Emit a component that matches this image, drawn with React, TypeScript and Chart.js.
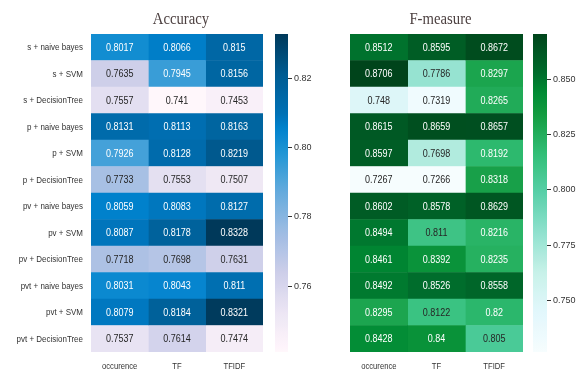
import React, { useEffect, useRef } from "react";
import { Chart, registerables } from "chart.js";

Chart.register(...registerables);

// ---------------- data ----------------
const rowLabels = [
  "s + naive bayes",
  "s + SVM",
  "s + DecisionTree",
  "p + naive bayes",
  "p + SVM",
  "p + DecisionTree",
  "pv + naive bayes",
  "pv + SVM",
  "pv + DecisionTree",
  "pvt + naive bayes",
  "pvt + SVM",
  "pvt + DecisionTree",
];
const colLabels = ["occurence", "TF", "TFIDF"];

const accOccurence = [0.8017, 0.7635, 0.7557, 0.8131, 0.7926, 0.7733, 0.8059, 0.8087, 0.7718, 0.8031, 0.8079, 0.7537];
const accTF = [0.8066, 0.7945, 0.741, 0.8113, 0.8128, 0.7553, 0.8083, 0.8178, 0.7698, 0.8043, 0.8184, 0.7614];
const accTFIDF = [0.815, 0.8156, 0.7453, 0.8163, 0.8219, 0.7507, 0.8127, 0.8328, 0.7631, 0.811, 0.8321, 0.7474];

const fOccurence = [0.8512, 0.8706, 0.748, 0.8615, 0.8597, 0.7267, 0.8602, 0.8494, 0.8461, 0.8492, 0.8295, 0.8428];
const fTF = [0.8595, 0.7786, 0.7319, 0.8659, 0.7698, 0.7266, 0.8578, 0.811, 0.8392, 0.8526, 0.8122, 0.84];
const fTFIDF = [0.8672, 0.8297, 0.8265, 0.8657, 0.8192, 0.8318, 0.8629, 0.8216, 0.8235, 0.8558, 0.82, 0.805];

const accColorbarTicks = [0.76, 0.78, 0.8, 0.82];
const fColorbarTicks = [0.75, 0.775, 0.8, 0.825, 0.85];

// colormaps (matplotlib PuBu / BuGn)
const PuBu = ["#fff7fb", "#ece7f2", "#d0d1e6", "#a6bddb", "#74a9cf", "#3690c0", "#0570b0", "#045a8d", "#023858"];
const BuGn = ["#f7fcfd", "#e5f5f9", "#ccece6", "#99d8c9", "#66c2a4", "#41ae76", "#238b45", "#006d2c", "#00441b"];

const FONT = "'Liberation Sans', Arial, sans-serif";
const TITLE_FONT = "'Liberation Serif', 'Times New Roman', serif";
const SAT_BOOST = 1.3;

// ---------------- helpers ----------------
function hexToRgb(h: string): number[] {
  const n = parseInt(h.slice(1), 16);
  return [(n >> 16) & 255, (n >> 8) & 255, n & 255];
}
function boost(c: number[]): number[] {
  const r = c[0] / 255, g = c[1] / 255, b = c[2] / 255;
  const mx = Math.max(r, g, b), mn = Math.min(r, g, b);
  const l = (mx + mn) / 2;
  if (mx === mn) return c;
  const d = mx - mn;
  let s = l > 0.5 ? d / (2 - mx - mn) : d / (mx + mn);
  let h = 0;
  if (mx === r) h = (g - b) / d + (g < b ? 6 : 0);
  else if (mx === g) h = (b - r) / d + 2;
  else h = (r - g) / d + 4;
  h /= 6;
  s = Math.min(1, s * SAT_BOOST);
  const q = l < 0.5 ? l * (1 + s) : l + s - l * s;
  const p = 2 * l - q;
  const hue = (t: number) => {
    if (t < 0) t += 1;
    if (t > 1) t -= 1;
    if (t < 1 / 6) return p + (q - p) * 6 * t;
    if (t < 1 / 2) return q;
    if (t < 2 / 3) return p + (q - p) * (2 / 3 - t) * 6;
    return p;
  };
  return [hue(h + 1 / 3), hue(h), hue(h - 1 / 3)].map((v) => Math.round(v * 255));
}
function cmap(stops: string[], t: number): number[] {
  t = Math.max(0, Math.min(1, t));
  const n = stops.length - 1;
  const p = t * n;
  const i = Math.min(Math.floor(p), n - 1);
  const f = p - i;
  const a = hexToRgb(stops[i]);
  const b = hexToRgb(stops[i + 1]);
  return boost([0, 1, 2].map((k) => Math.round(a[k] + (b[k] - a[k]) * f)));
}
function rgbStr(c: number[]) {
  return `rgb(${c[0]},${c[1]},${c[2]})`;
}
function luminance(c: number[]) {
  const l = c.map((v) => {
    const s = v / 255;
    return s <= 0.03928 ? s / 12.92 : Math.pow((s + 0.055) / 1.055, 2.4);
  });
  return 0.2126 * l[0] + 0.7152 * l[1] + 0.0722 * l[2];
}
function condensedText(ctx: any, text: string, x: number, y: number, sx: number, align: string) {
  ctx.save();
  ctx.translate(x, y);
  ctx.scale(sx, 1);
  ctx.textAlign = align;
  ctx.textBaseline = "middle";
  ctx.fillText(text, 0, 0);
  ctx.restore();
}

const annotPlugin = {
  id: "annot",
  afterDatasetsDraw(chart: any) {
    const ctx = chart.ctx;
    ctx.save();
    ctx.font = `10px ${FONT}`;
    chart.data.datasets.forEach((ds: any, di: number) => {
      const meta = chart.getDatasetMeta(di);
      meta.data.forEach((el: any, i: number) => {
        const { x, y } = el.getCenterPoint();
        const v = ds.values[i];
        ctx.fillStyle = luminance(ds.rgb[i]) > 0.408 ? "#262626" : "#ffffff";
        condensedText(ctx, String(v), x, y + 0.5, 0.9, "center");
      });
    });
    ctx.restore();
  },
};

const labelPlugin = {
  id: "labels",
  afterDraw(chart: any, _args: any, opts: any) {
    const ctx = chart.ctx;
    const ca = chart.chartArea;
    const xs = chart.scales.x;
    const ys = chart.scales.y;
    ctx.save();
    // title
    ctx.fillStyle = "#4d4141";
    ctx.font = `16px ${TITLE_FONT}`;
    condensedText(ctx, opts.title, (ca.left + ca.right) / 2 + 4, 20, 0.92, "center");
    // column labels
    ctx.fillStyle = "#333333";
    ctx.font = `9px ${FONT}`;
    colLabels.forEach((c, i) => {
      condensedText(ctx, c, xs.getPixelForValue(i + 0.5), ca.bottom + 15, 0.85, "center");
    });
    // row labels
    if (opts.showRows) {
      ctx.font = `9.5px ${FONT}`;
      rowLabels.forEach((r, i) => {
        condensedText(ctx, r, ca.left - 8, ys.getPixelForValue(i) + 0.5, 0.84, "right");
      });
    }
    ctx.restore();
  },
};

type HeatProps = {
  title: string;
  columns: number[][];
  stops: string[];
  showRows: boolean;
  left: number;
  width: number;
  padLeft: number;
  padRight: number;
};

function Heatmap(props: HeatProps) {
  const ref = useRef<HTMLCanvasElement>(null);
  useEffect(() => {
    const all = props.columns.flat();
    const vmin = Math.min(...all);
    const vmax = Math.max(...all);
    const datasets = props.columns.map((vals, c) => {
      const rgb = vals.map((v) => cmap(props.stops, (v - vmin) / (vmax - vmin)));
      return {
        label: colLabels[c],
        data: vals.map(() => [c, c + 1]),
        values: vals,
        rgb,
        backgroundColor: rgb.map(rgbStr),
        borderWidth: 0,
        grouped: false,
        barPercentage: 1,
        categoryPercentage: 1,
      };
    });
    const chart = new Chart(ref.current as HTMLCanvasElement, {
      type: "bar",
      data: { labels: rowLabels, datasets: datasets as any },
      options: {
        indexAxis: "y",
        responsive: false,
        animation: false,
        layout: { padding: { left: props.padLeft, right: props.padRight, top: 34, bottom: 0 } },
        plugins: {
          legend: { display: false },
          tooltip: { enabled: false },
          labels: { title: props.title, showRows: props.showRows },
        } as any,
        scales: {
          x: {
            type: "linear",
            min: 0,
            max: 3,
            grid: { display: false, drawTicks: false },
            border: { display: false },
            afterFit: (s: any) => {
              s.height = 20;
            },
            ticks: { display: false },
          },
          y: {
            type: "category",
            display: props.showRows,
            grid: { display: false, drawTicks: false },
            border: { display: false },
            afterFit: (s: any) => {
              if (props.showRows) s.width = 91 - props.padLeft;
            },
            ticks: { display: false },
          },
        } as any,
      },
      plugins: [annotPlugin, labelPlugin],
    });
    return () => chart.destroy();
  }, []);
  return (
    <canvas
      ref={ref}
      width={props.width}
      height={372}
      style={{ position: "absolute", left: props.left, top: 0 }}
    />
  );
}

type CbProps = {
  columns: number[][];
  stops: string[];
  ticks: number[];
  decimals: number;
  left: number;
  barWidth: number;
};

function Colorbar(props: CbProps) {
  const ref = useRef<HTMLCanvasElement>(null);
  const W = 50;
  useEffect(() => {
    const all = props.columns.flat();
    const vmin = Math.min(...all);
    const vmax = Math.max(...all);
    const chart = new Chart(ref.current as HTMLCanvasElement, {
      type: "bar",
      data: {
        labels: [""],
        datasets: [
          {
            data: [[vmin, vmax]] as any,
            borderWidth: 0,
            barPercentage: 1,
            categoryPercentage: 1,
            backgroundColor: (ctx: any) => {
              const ca = ctx.chart.chartArea;
              if (!ca) return props.stops[0];
              const g = ctx.chart.ctx.createLinearGradient(0, ca.bottom, 0, ca.top);
              const N = 48;
              for (let i = 0; i <= N; i++) g.addColorStop(i / N, rgbStr(cmap(props.stops, i / N)));
              return g;
            },
          },
        ],
      },
      options: {
        responsive: false,
        animation: false,
        layout: { padding: { left: 5, top: 34, bottom: 20, right: 0 } },
        plugins: { legend: { display: false }, tooltip: { enabled: false } },
        scales: {
          x: { display: false },
          y: {
            position: "right",
            min: vmin,
            max: vmax,
            border: { display: false },
            grid: { display: true, drawOnChartArea: false, drawTicks: true, tickLength: 4, color: "#333333" },
            afterBuildTicks: (s: any) => {
              s.ticks = props.ticks.map((v) => ({ value: v }));
            },
            afterFit: (s: any) => {
              s.width = W - 5 - props.barWidth;
            },
            ticks: {
              padding: 2,
              color: "#333333",
              font: { family: FONT, size: 9 },
              callback: (v: any) => Number(v).toFixed(props.decimals),
            },
          },
        } as any,
      },
    });
    return () => chart.destroy();
  }, []);
  return (
    <canvas
      ref={ref}
      width={W}
      height={372}
      style={{ position: "absolute", left: props.left, top: 0 }}
    />
  );
}

export default function App() {
  return (
    <div
      style={{
        position: "absolute",
        left: 0,
        top: 0,
        width: 578,
        height: 372,
        background: "#ffffff",
        overflow: "hidden",
      }}
    >
      <Heatmap
        title="Accuracy"
        columns={[accOccurence, accTF, accTFIDF]}
        stops={PuBu}
        showRows={true}
        left={0}
        width={264}
        padLeft={0}
        padRight={1}
      />
      <Colorbar columns={[accOccurence, accTF, accTFIDF]} stops={PuBu} ticks={accColorbarTicks} decimals={2} left={270} barWidth={13} />
      <Heatmap
        title="F-measure"
        columns={[fOccurence, fTF, fTFIDF]}
        stops={BuGn}
        showRows={false}
        left={300}
        width={226}
        padLeft={50}
        padRight={3}
      />
      <Colorbar columns={[fOccurence, fTF, fTFIDF]} stops={BuGn} ticks={fColorbarTicks} decimals={3} left={528} barWidth={14} />
    </div>
  );
}
